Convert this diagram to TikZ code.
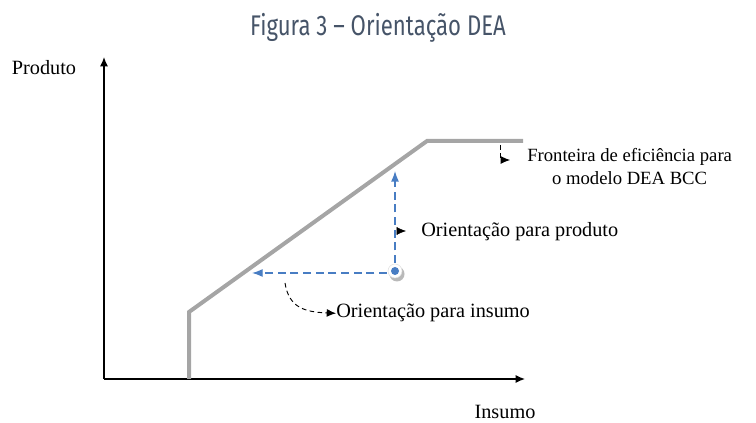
\documentclass[tikz,border=0pt]{standalone}
\usepackage{fontspec}
\setmainfont{Liberation Serif}
\newfontfamily\titlefont[FakeStretch=0.78]{Fira Sans}
\usetikzlibrary{arrows.meta}

\definecolor{frontgray}{RGB}{165,165,165}
\definecolor{dirblue}{RGB}{72,125,195}
\definecolor{titleblue}{RGB}{70,84,104}

\tikzset{
  axis/.style={line width=0.9pt, -{Latex[length=7pt,width=6pt]}},
  frontier/.style={frontgray, line width=3pt},
  dirarrow/.style={dirblue, line width=1pt, dash pattern=on 6pt off 3.5pt, -{Latex[length=8pt,width=6pt]}},
  callout/.style={black, line width=0.7pt, dash pattern=on 3.5pt off 2.5pt, -{Latex[length=7pt,width=6pt]}},
  label/.style={font=\fontsize{15.2}{17.5}\selectfont, inner sep=0pt}
}

\begin{document}
\begin{tikzpicture}[x=0.75pt,y=-0.75pt]
  \useasboundingbox (0,0) rectangle (756,423);

  % title
  \node[titleblue, font=\titlefont\fontsize{21.3}{24}\selectfont] (title) at (378,28) {Figura 3 – Orientação DEA};

  % axes
  \coordinate (origin) at (104,379);
  \coordinate (ytip) at (104,57);
  \coordinate (xtip) at (525,379);
  \draw[axis] (origin) -- (ytip);
  \draw[axis] (origin) -- (xtip);
  \node[label, anchor=base] (produto) at (44,75) {Produto};
  \node[label, anchor=base] (insumo) at (505,418) {Insumo};

  % frontier BCC
  \coordinate (f0) at (189,379);
  \coordinate (f1) at (189,312);
  \coordinate (f2) at (427,141);
  \coordinate (f3) at (523,141);
  \draw[frontier] (f0) -- (f1) -- (f2) -- (f3);

  % unit
  \coordinate (uptip) at (395,171);
  \coordinate (lefttip) at (252,273);
  \draw[dirarrow] (395,263) -- (uptip);
  \draw[dirarrow] (387,273) -- (lefttip);
  \fill[gray!55] (397,274) circle (7.5);
  \filldraw[fill=white, draw=gray!25] (395,271) circle (7);
  \node[circle, fill=dirblue, inner sep=0pt, minimum size=6pt] (dmu) at (395,271) {};

  % labels
  \node[label, anchor=base west] (prodlbl) at (421,237) {Orientação para produto};
  \coordinate (prodarr) at (397,231);
  \draw[-{Latex[length=7pt,width=6pt]}] (prodarr) -- ++(9,0);

  \node[label, anchor=base west] (insumolbl) at (336,318) {Orientação para insumo};
  \coordinate (insstart) at (285,283);
  \draw[callout] (insstart) .. controls (289,308) and (305,312) .. (insumolbl.west);

  \node[label, font=\fontsize{14}{17.5}\selectfont, align=center, anchor=north west] (frontlbl) at (527,148) {Fronteira de eficiência para\\o modelo DEA BCC};
  \coordinate (frontstart) at (500,145);
  \coordinate (frontbend) at (500,160);
  \draw[callout] (frontstart) -- (frontbend) -- ++(10,0);
\end{tikzpicture}
\end{document}
